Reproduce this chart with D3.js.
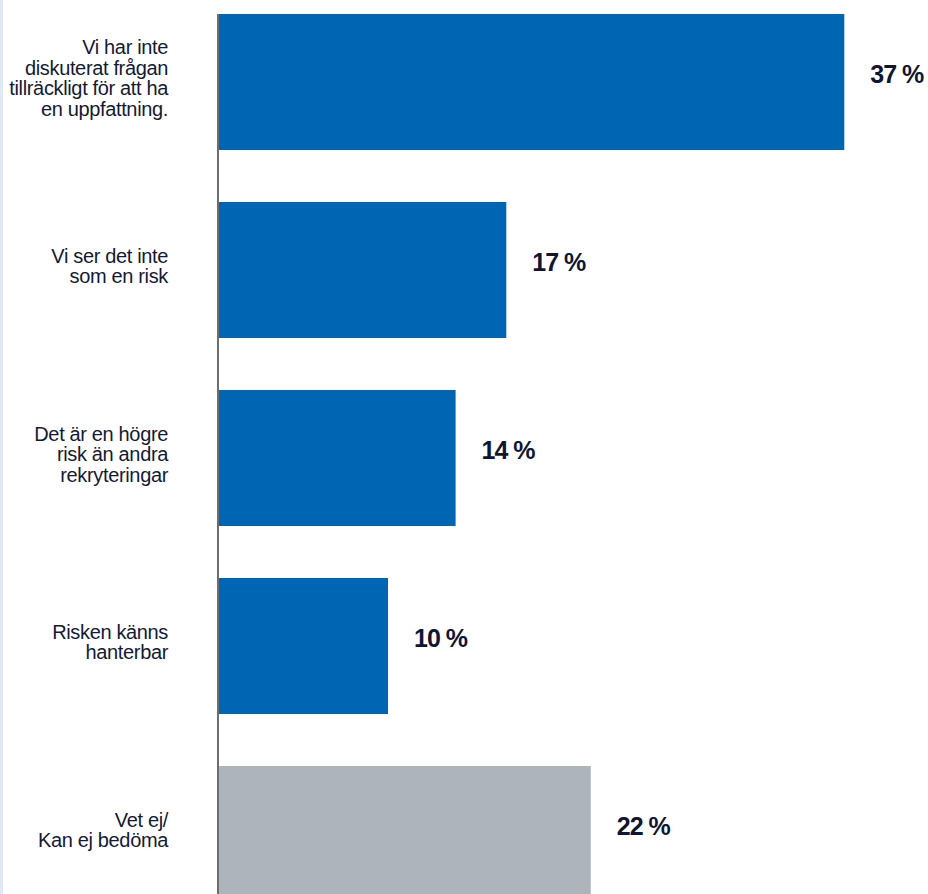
<!DOCTYPE html>
<html lang="sv">
<head>
<meta charset="utf-8">
<script src="https://cdn.jsdelivr.net/npm/d3@7/dist/d3.min.js"></script>
<style>
  html, body { margin: 0; padding: 0; background: #ffffff; }
  svg { display: block; }
</style>
</head>
<body>
<svg id="chart" width="928" height="894"></svg>
<script>
// Answer categories (each entry is one line of the wrapped label)
const categories = [
  ["Vi har inte", "diskuterat frågan", "tillräckligt för att ha", "en uppfattning."],
  ["Vi ser det inte", "som en risk"],
  ["Det är en högre", "risk än andra", "rekryteringar"],
  ["Risken känns", "hanterbar"],
  ["Vet ej/", "Kan ej bedöma"]
];
// Share of respondents, percent
const values = [37, 17, 14, 10, 22];
// Whether the answer is a "don't know" response (drawn in grey)
const neutral = [false, false, false, false, true];

const W = 928, H = 894;
const svg = d3.select("#chart");

const keys = categories.map((c, i) => i);

const y = d3.scaleBand()
  .domain(keys)
  .range([14, 902])
  .paddingInner(52 / 188)
  .paddingOuter(0);

const x = d3.scaleLinear()
  .domain([0, 40])
  .range([219, 895]);

// thin tinted strip along the left edge
svg.append("rect")
  .attr("x", 0).attr("y", 0)
  .attr("width", 3).attr("height", H)
  .attr("fill", "#e3e8f5");

// bars
svg.append("g")
  .selectAll("rect")
  .data(keys)
  .join("rect")
  .attr("x", x(0))
  .attr("y", i => y(i))
  .attr("width", i => x(values[i]) - x(0))
  .attr("height", y.bandwidth())
  .attr("fill", i => neutral[i] ? "#aeb4bc" : "#0066b3");

// vertical baseline axis
svg.append("line")
  .attr("x1", x(0) - 1).attr("x2", x(0) - 1)
  .attr("y1", y(keys[0])).attr("y2", H)
  .attr("stroke", "#4a4a4a")
  .attr("stroke-width", 1.6);

// category labels, right aligned left of the axis
const lineH = 20.5;
const catG = svg.append("g")
  .attr("font-family", "'Liberation Sans', Arial, sans-serif")
  .attr("font-size", 20)
  .attr("letter-spacing", "-0.35px")
  .attr("fill", "#141a33")
  .attr("text-anchor", "end");

catG.selectAll("text")
  .data(keys)
  .join("text")
  .attr("x", 168)
  .attr("y", i => {
    const n = categories[i].length;
    const mid = y(i) + y.bandwidth() / 2 - 4;
    return mid - ((n - 1) * lineH) / 2 + 7;
  })
  .each(function (i) {
    const t = d3.select(this);
    categories[i].forEach((line, k) => {
      t.append("tspan")
        .attr("x", 168)
        .attr("dy", k === 0 ? 0 : lineH)
        .text(line);
    });
  });

// value labels
svg.append("g")
  .attr("font-family", "'Liberation Sans', Arial, sans-serif")
  .attr("font-size", 25)
  .attr("font-weight", "bold")
  .attr("letter-spacing", "-1px")
  .attr("fill", "#0f1533")
  .selectAll("text")
  .data(keys)
  .join("text")
  .attr("x", i => x(values[i]) + 26)
  .attr("y", i => y(i) + y.bandwidth() / 2 + 1)
  .text(i => `${values[i]} %`);
</script>
</body>
</html>
